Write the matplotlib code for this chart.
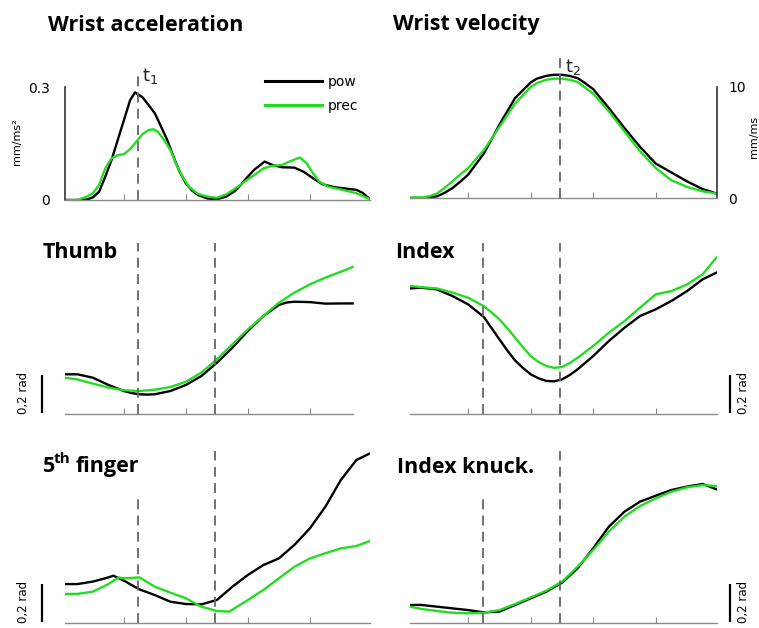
import matplotlib
matplotlib.use('Agg')
import matplotlib.pyplot as plt

# time axis shared by all panels (arbitrary units, ticks every 1)
t1 = 1.23
t2 = 2.47
t_right = [0.07, 0.25, 0.5, 0.75, 1.0, 1.25, 1.5, 1.75, 2.0, 2.25, 2.5,
           2.75, 3.0, 3.25, 3.5, 3.75, 4.0, 4.25, 4.5, 4.75, 4.97]

# wrist acceleration (mm/ms^2)
acc_t_pow = [0.05, 0.25, 0.4, 0.5, 0.6, 0.7, 0.8, 0.9, 1.0, 1.1, 1.18, 1.3, 1.4,
             1.5, 1.6, 1.7, 1.8, 1.9, 2.0, 2.1, 2.2, 2.35, 2.5, 2.65, 2.8, 2.95,
             3.1, 3.27, 3.4, 3.55, 3.75, 3.9, 4.05, 4.2, 4.4, 4.6, 4.75, 4.85, 4.97]
acc_pow = [0, 0, 0.001, 0.007, 0.022, 0.062, 0.106, 0.159, 0.212, 0.265, 0.286,
           0.273, 0.252, 0.230, 0.195, 0.159, 0.115, 0.075, 0.044, 0.025, 0.013,
           0.004, 0.002, 0.009, 0.025, 0.053, 0.080, 0.102, 0.093, 0.087, 0.086,
           0.075, 0.058, 0.042, 0.034, 0.030, 0.027, 0.019, 0.002]
acc_t_prec = [0.05, 0.25, 0.4, 0.5, 0.6, 0.7, 0.8, 0.9, 1.0, 1.1, 1.2, 1.3, 1.4,
              1.48, 1.55, 1.65, 1.75, 1.85, 1.95, 2.05, 2.2, 2.35, 2.5, 2.65, 2.8,
              2.95, 3.1, 3.25, 3.4, 3.55, 3.7, 3.84, 3.95, 4.05, 4.15, 4.3, 4.5,
              4.75, 4.97]
acc_prec = [0, 0, 0.009, 0.018, 0.040, 0.084, 0.111, 0.119, 0.122, 0.135, 0.155,
            0.175, 0.186, 0.188, 0.181, 0.159, 0.133, 0.093, 0.060, 0.035, 0.016,
            0.009, 0.006, 0.015, 0.031, 0.049, 0.066, 0.084, 0.091, 0.093, 0.104,
            0.113, 0.097, 0.071, 0.049, 0.035, 0.028, 0.018, 0.002]

# wrist velocity (mm/ms)
vel_t = [0.07, 0.25, 0.375, 0.5, 0.62, 0.75, 0.87, 1.0, 1.25, 1.5, 1.75, 2.0,
         2.1, 2.25, 2.37, 2.5, 2.62, 2.75, 2.87, 3.0, 3.25, 3.5, 3.75, 4.0,
         4.25, 4.5, 4.75, 4.87, 4.97]
vel_pow = [0, 0, 0.05, 0.15, 0.45, 0.9, 1.45, 2.1, 4.0, 6.6, 9.0, 10.4, 10.75,
           11.0, 11.1, 11.1, 11.0, 10.8, 10.35, 9.8, 8.1, 6.3, 4.6, 3.1, 2.3,
           1.5, 0.8, 0.6, 0.4]
vel_prec = [0.05, 0.05, 0.15, 0.4, 0.9, 1.5, 2.1, 2.7, 4.3, 6.4, 8.5, 10.0,
            10.35, 10.65, 10.75, 10.75, 10.65, 10.45, 9.95, 9.4, 7.8, 6.0, 4.2,
            2.7, 1.6, 1.0, 0.6, 0.5, 0.4]

# thumb angle (rad)
thumb_t_pow = [0.05, 0.25, 0.375, 0.5, 0.625, 0.75, 1.0, 1.125, 1.25, 1.375, 1.5,
               1.75, 2.0, 2.25, 2.5, 2.75, 3.0, 3.25, 3.5, 3.625, 3.75, 4.0,
               4.25, 4.5, 4.69]
thumb_pow = [0.209, 0.209, 0.200, 0.191, 0.172, 0.153, 0.121, 0.110, 0.104,
             0.102, 0.104, 0.121, 0.153, 0.200, 0.270, 0.349, 0.437, 0.516,
             0.574, 0.587, 0.591, 0.589, 0.581, 0.582, 0.582]
thumb_t_prec = [0.05, 0.25, 0.5, 0.75, 1.0, 1.25, 1.5, 1.75, 2.0, 2.25, 2.5,
                2.75, 3.0, 3.25, 3.5, 3.75, 4.0, 4.25, 4.5, 4.69]
thumb_prec = [0.191, 0.182, 0.160, 0.139, 0.125, 0.121, 0.128, 0.142, 0.170,
              0.218, 0.288, 0.367, 0.446, 0.516, 0.586, 0.639, 0.682, 0.718,
              0.749, 0.774]

# index finger angle (rad)
index_t = [0.07, 0.25, 0.5, 0.75, 1.0, 1.25, 1.375, 1.5, 1.625, 1.75, 1.875,
           2.0, 2.125, 2.25, 2.375, 2.5, 2.625, 2.75, 3.0, 3.25, 3.5, 3.75,
           4.0, 4.25, 4.5, 4.75, 4.97]
index_pow = [0.661, 0.665, 0.656, 0.621, 0.577, 0.511, 0.452, 0.393, 0.335,
             0.282, 0.243, 0.209, 0.188, 0.174, 0.172, 0.182, 0.205, 0.235,
             0.305, 0.384, 0.454, 0.516, 0.551, 0.595, 0.647, 0.709, 0.744]
index_prec = [0.674, 0.668, 0.661, 0.639, 0.612, 0.568, 0.535, 0.498, 0.452,
              0.402, 0.352, 0.305, 0.274, 0.253, 0.243, 0.247, 0.268, 0.296,
              0.358, 0.428, 0.489, 0.560, 0.630, 0.647, 0.682, 0.735, 0.823]

# 5th finger angle (rad)
fifth_t_pow = [0.05, 0.25, 0.5, 0.75, 0.83, 1.0, 1.25, 1.5, 1.75, 2.0, 2.25, 2.5,
               2.75, 3.0, 3.25, 3.5, 3.75, 4.0, 4.25, 4.5, 4.75, 4.97]
fifth_pow = [0.205, 0.205, 0.218, 0.240, 0.249, 0.223, 0.177, 0.147, 0.112,
             0.100, 0.098, 0.121, 0.191, 0.253, 0.305, 0.340, 0.411, 0.498,
             0.612, 0.753, 0.858, 0.893]
fifth_t_prec = [0.05, 0.25, 0.5, 0.75, 0.92, 1.0, 1.25, 1.5, 1.75, 2.0, 2.25, 2.5,
                2.7, 3.0, 3.25, 3.5, 3.75, 4.0, 4.25, 4.5, 4.75, 4.97]
fifth_prec = [0.153, 0.153, 0.165, 0.205, 0.240, 0.235, 0.240, 0.191, 0.160,
              0.130, 0.086, 0.063, 0.060, 0.121, 0.174, 0.235, 0.296, 0.340,
              0.367, 0.393, 0.405, 0.432]

# index knuckle angle (rad)
knuck_pow = [0.095, 0.095, 0.086, 0.077, 0.068, 0.056, 0.060, 0.095, 0.130,
             0.165, 0.212, 0.288, 0.393, 0.507, 0.586, 0.639, 0.670, 0.700,
             0.718, 0.732, 0.704]
knuck_prec = [0.086, 0.074, 0.063, 0.054, 0.051, 0.054, 0.068, 0.100, 0.135,
              0.170, 0.218, 0.296, 0.384, 0.481, 0.560, 0.616, 0.656, 0.691,
              0.714, 0.726, 0.721]

BLACK = 'black'
GREEN = '#22dd22'
DASH = '#666666'
AXC = '#8a8a8a'
LW = 1.7
W, H = 759, 628

fig = plt.figure(figsize=(W / 100, H / 100), dpi=100)


def panel(x0, x1, ybot, ytop, xlim, ylim):
    ax = fig.add_axes([x0 / W, 1 - ybot / H, (x1 - x0) / W, (ybot - ytop) / H])
    ax.set_xlim(*xlim)
    ax.set_ylim(*ylim)
    for s in ['top', 'right', 'left']:
        ax.spines[s].set_visible(False)
    ax.spines['bottom'].set_color(AXC)
    ax.spines['bottom'].set_linewidth(1.0)
    ax.set_xticks([1, 2, 3, 4])
    ax.tick_params(axis='x', direction='in', length=4, color=AXC, labelbottom=False)
    ax.set_yticks([])
    ax.patch.set_alpha(0)
    return ax


def curves(ax, tp, yp, tq, yq):
    a, = ax.plot(tp, yp, color=BLACK, lw=LW, solid_joinstyle='round', label='pow')
    b, = ax.plot(tq, yq, color=GREEN, lw=LW, solid_joinstyle='round', label='prec')
    return a, b


def dashed(ax, x, top):
    ax.vlines(x, 0, top, colors=DASH, linestyles=(0, (5.5, 3.5)), lw=1.3, clip_on=False)


LX = (0.05, 4.97)
RX = (0.07, 4.98)

# --- wrist acceleration ---
ax = panel(65, 370, 200, 60, LX, (0, 0.372))
l1, l2 = curves(ax, acc_t_pow, acc_pow, acc_t_prec, acc_prec)
dashed(ax, t1, 0.332)
ax.text(t1 + 0.07, 0.316, 't$_1$', fontsize=13, va='baseline', color='#222222')
ax.spines['left'].set_visible(True)
ax.spines['left'].set_bounds(0, 0.3)
ax.spines['left'].set_color('#333333')
ax.spines['left'].set_linewidth(1.2)
ax.set_yticks([0, 0.3])
ax.set_yticklabels(['0', '0.3'])
ax.tick_params(axis='y', length=0, pad=11, labelsize=10)
ax.text(-0.157, 0.414, 'mm/ms²', rotation=90, fontsize=8, ha='center', va='center',
        transform=ax.transAxes)
ax.legend(handles=[l1, l2], loc='upper left', bbox_to_anchor=(265 / W, 1 - 75 / H),
          bbox_transform=fig.transFigure, frameon=False, fontsize=10,
          handlelength=4.1, handletextpad=0.45, labelspacing=0.7,
          borderpad=0, borderaxespad=0)
for ln in ax.get_legend().get_lines():
    ln.set_linewidth(2.2)

# --- wrist velocity ---
ax = panel(410, 717, 198, 55, RX, (0, 12.88))
curves(ax, vel_t, vel_pow, vel_t, vel_prec)
dashed(ax, t2, 12.7)
ax.text(t2 + 0.08, 11.35, 't$_2$', fontsize=13, va='baseline', color='#222222')
ax.spines['right'].set_visible(True)
ax.spines['right'].set_bounds(0, 10)
ax.spines['right'].set_color('#333333')
ax.spines['right'].set_linewidth(1.2)
ax.yaxis.tick_right()
ax.set_yticks([0, 10])
ax.set_yticklabels(['0', '10'])
ax.tick_params(axis='y', length=0, pad=8, labelsize=10)
ax.text(1.12, 0.427, 'mm/ms', rotation=90, fontsize=8, ha='center', va='center',
        transform=ax.transAxes)

# --- finger angle panels ---
rows = [
    (65, 370, 414, 240, LX, thumb_t_pow, thumb_pow, thumb_t_prec, thumb_prec, (0.9, 0.9), 'left', 4.69),
    (410, 717, 414, 240, RX, index_t, index_pow, index_t, index_prec, (0.9, 0.9), 'right', None),
    (65, 370, 623, 449, LX, fifth_t_pow, fifth_pow, fifth_t_prec, fifth_prec, (0.674, 0.905), 'left', None),
    (410, 717, 623, 449, RX, t_right, knuck_pow, t_right, knuck_prec, (0.674, 0.905), 'right', None),
]
for x0, x1, yb, yt, xl, tp, yp, tq, yq, tops, side, xend in rows:
    ax = panel(x0, x1, yb, yt, xl, (0, 0.916))
    curves(ax, tp, yp, tq, yq)
    dashed(ax, t1, tops[0])
    dashed(ax, t2, tops[1])
    # 0.2 rad scale bar
    if side == 'left':
        xb, xt = -0.32, -0.62
    else:
        xb, xt = 5.19, 5.40
    ax.plot([xb, xb], [0.005, 0.205], color='black', lw=1.6, clip_on=False,
            solid_capstyle='butt')
    ax.text(xt, 0.11, '0,2 rad', rotation=90, fontsize=8.5, ha='center', va='center',
            clip_on=False)
    if xend is not None:
        ax.spines['bottom'].set_bounds(xl[0], xend)

# --- panel titles ---
tfont = dict(fontsize=15.5, fontweight='bold', family='Open Sans', va='baseline')
fig.text(48 / W, 1 - 31 / H, 'Wrist acceleration', **tfont)
fig.text(393 / W, 1 - 30 / H, 'Wrist velocity', **tfont)
fig.text(43 / W, 1 - 258 / H, 'Thumb', **tfont)
fig.text(395 / W, 1 - 258 / H, 'Index', **tfont)
fig.text(43 / W, 1 - 472 / H, '5', **tfont)
fig.text(54 / W, 1 - 463 / H, 'th', fontsize=11, fontweight='bold', family='Open Sans',
         va='baseline')
fig.text(76 / W, 1 - 472 / H, 'finger', **tfont)
fig.text(397 / W, 1 - 473 / H, 'Index knuck.', **tfont)

fig.savefig('out.png', dpi=100)
